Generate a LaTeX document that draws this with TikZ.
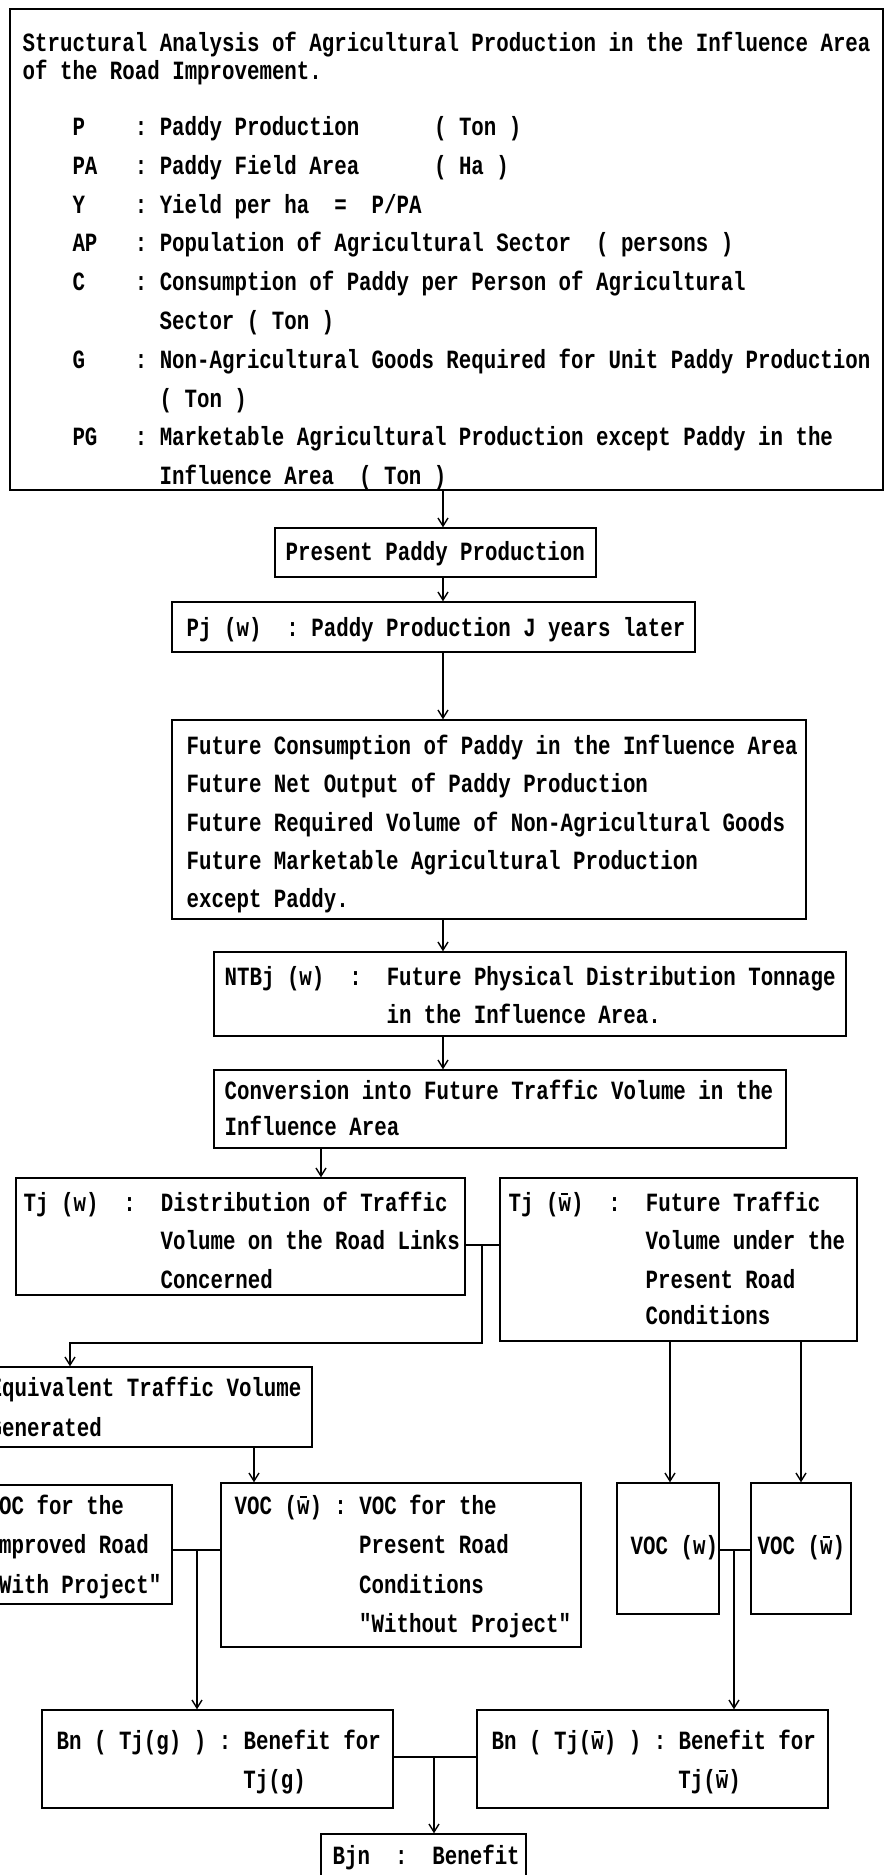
\documentclass[tikz,border=0pt]{standalone}
\usepackage{fontspec}
\usetikzlibrary{arrows.meta,fit}
\newfontfamily\tw[FakeStretch=0.79,WordSpace={1,0,0}]{Liberation Mono}
\newcommand{\wb}{\makebox[0pt][l]{\makebox[12.45pt]{\rule[16.5pt]{7pt}{1.3pt}}}w}
\newcommand{\txtline}[4]{\node[txt] (#1) at (#2,#3) {#4};}
\begin{document}
\begin{tikzpicture}[x=1pt,y=-1pt,line width=1.4pt,
  txt/.style={anchor=base west,inner sep=0pt,font=\tw\bfseries\fontsize{26.3pt}{38pt}\selectfont},
  box/.style={draw,inner sep=0pt},
  arr/.style={-{Straight Barb[length=8pt,width=10pt]}}]
\useasboundingbox (0,0) rectangle (884,1875);
% boxes
\node[box,fit={(10,9) (883,490)}] (top) {};
\node[box,fit={(275,528) (596,577)}] (present) {};
\node[box,fit={(172,602) (695,652)}] (pj) {};
\node[box,fit={(172,720) (806,919)}] (future) {};
\node[box,fit={(214,952) (846,1036)}] (ntbj) {};
\node[box,fit={(214,1070) (786,1148)}] (conv) {};
\node[box,fit={(16,1178) (465,1295)}] (tjw) {};
\node[box,fit={(500,1178) (857,1341)}] (tjwb) {};
\node[box,fit={(-20,1367) (312,1447)}] (equiv) {};
\node[box,fit={(-20,1485) (172,1604)}] (vocg) {};
\node[box,fit={(221,1483) (581,1647)}] (vocwb) {};
\node[box,fit={(617,1483) (719,1614)}] (vocw) {};
\node[box,fit={(751,1483) (851,1614)}] (vocws) {};
\node[box,fit={(42,1710) (393,1808)}] (bng) {};
\node[box,fit={(477,1710) (828,1808)}] (bnw) {};
\node[box,fit={(321,1834) (526,1890)}] (bjn) {};
% texts
\txtline{t1}{22}{51}{Structural~Analysis~of~Agricultural~Production~in~the~Influence~Area}
\txtline{t2}{22}{79}{of~the~Road~Improvement.}
\txtline{t3}{71.8}{135}{P~~~~:~Paddy~Production~~~~~~(~Ton~)}
\txtline{t4}{71.8}{174}{PA~~~:~Paddy~Field~Area~~~~~~(~Ha~)}
\txtline{t5}{71.8}{213}{Y~~~~:~Yield~per~ha~~=~~P/PA}
\txtline{t6}{71.8}{251}{AP~~~:~Population~of~Agricultural~Sector~~(~persons~)}
\txtline{t7}{71.8}{290}{C~~~~:~Consumption~of~Paddy~per~Person~of~Agricultural}
\txtline{t8}{158.95}{329}{Sector~(~Ton~)}
\txtline{t9}{71.8}{368}{G~~~~:~Non-Agricultural~Goods~Required~for~Unit~Paddy~Production}
\txtline{t10}{158.95}{407}{(~Ton~)}
\txtline{t11}{71.8}{445}{PG~~~:~Marketable~Agricultural~Production~except~Paddy~in~the}
\txtline{t12}{158.95}{484}{Influence~Area~~(~Ton~)}
\txtline{t13}{285}{560}{Present~Paddy~Production}
\txtline{t14}{186}{636}{Pj~(w)~~:~Paddy~Production~J~years~later}
\txtline{t15}{186}{754}{Future~Consumption~of~Paddy~in~the~Influence~Area}
\txtline{t16}{186}{792}{Future~Net~Output~of~Paddy~Production}
\txtline{t17}{186}{831}{Future~Required~Volume~of~Non-Agricultural~Goods}
\txtline{t18}{186}{869}{Future~Marketable~Agricultural~Production}
\txtline{t19}{186}{907}{except~Paddy.}
\txtline{t20}{224}{985}{NTBj~(w)~~:~~Future~Physical~Distribution~Tonnage}
\txtline{t21}{385.85}{1023}{in~the~Influence~Area.}
\txtline{t22}{224}{1099}{Conversion~into~Future~Traffic~Volume~in~the}
\txtline{t23}{224}{1135}{Influence~Area}
\txtline{t24}{23}{1211}{Tj~(w)~~:~~Distribution~of~Traffic}
\txtline{t25}{160}{1249}{Volume~on~the~Road~Links}
\txtline{t26}{160}{1288}{Concerned}
\txtline{t27}{508}{1211}{Tj~(\wb)~~:~~Future~Traffic}
\txtline{t28}{645}{1249}{Volume~under~the}
\txtline{t29}{645}{1288}{Present~Road}
\txtline{t30}{645}{1324}{Conditions}
\txtline{t31}{-11}{1396}{Equivalent~Traffic~Volume}
\txtline{t32}{-11}{1436}{Generated}
\txtline{t33}{-14}{1514}{VOC~for~the}
\txtline{t34}{-14}{1553}{Improved~Road}
\txtline{t35}{-14}{1593}{"With~Project"}
\txtline{t36}{234}{1514}{VOC~(\wb)~:~VOC~for~the}
\txtline{t37}{358.5}{1553}{Present~Road}
\txtline{t38}{358.5}{1593}{Conditions}
\txtline{t39}{358.5}{1632}{"Without~Project"}
\txtline{t40}{630}{1554}{VOC~(w)}
\txtline{t41}{757}{1554}{VOC~(\wb)}
\txtline{t42}{56}{1749}{Bn~(~Tj(g)~)~:~Benefit~for}
\txtline{t43}{242.75}{1788}{Tj(g)}
\txtline{t44}{491}{1749}{Bn~(~Tj(\wb)~)~:~Benefit~for}
\txtline{t45}{677.75}{1788}{Tj(\wb)}
\txtline{t46}{332}{1864}{Bjn~~:~~Benefit}
% connector guides
\coordinate (xa) at (443,0);
\coordinate (xb) at (321,0);
\coordinate (xc) at (482,0);
\coordinate (xd) at (70,0);
\coordinate (xe) at (254,0);
\coordinate (xf) at (670,0);
\coordinate (xg) at (801,0);
\coordinate (xh) at (197,0);
\coordinate (xi) at (734,0);
\coordinate (xj) at (434,0);
\coordinate (ya) at (0,1245);
\coordinate (yb) at (0,1343);
\coordinate (yv) at (0,1550);
\coordinate (yw) at (0,1757);
% connectors
\draw[arr] (xa |- top.south) -- (xa |- present.north);
\draw[arr] (xa |- present.south) -- (xa |- pj.north);
\draw[arr] (xa |- pj.south) -- (xa |- future.north);
\draw[arr] (xa |- future.south) -- (xa |- ntbj.north);
\draw[arr] (xa |- ntbj.south) -- (xa |- conv.north);
\draw[arr] (xb |- conv.south) -- (xb |- tjw.north);
\draw (tjw.east |- ya) -- (tjwb.west |- ya);
\draw[arr] (xc |- ya) -- (xc |- yb) -- (xd |- yb) -- (xd |- equiv.north);
\draw[arr] (xe |- equiv.south) -- (xe |- vocwb.north);
\draw[arr] (xf |- tjwb.south) -- (xf |- vocw.north);
\draw[arr] (xg |- tjwb.south) -- (xg |- vocws.north);
\draw (vocg.east |- yv) -- (vocwb.west |- yv);
\draw[arr] (xh |- yv) -- (xh |- bng.north);
\draw (vocw.east |- yv) -- (vocws.west |- yv);
\draw[arr] (xi |- yv) -- (xi |- bnw.north);
\draw (bng.east |- yw) -- (bnw.west |- yw);
\draw[arr] (xj |- yw) -- (xj |- bjn.north);
\end{tikzpicture}
\end{document}
